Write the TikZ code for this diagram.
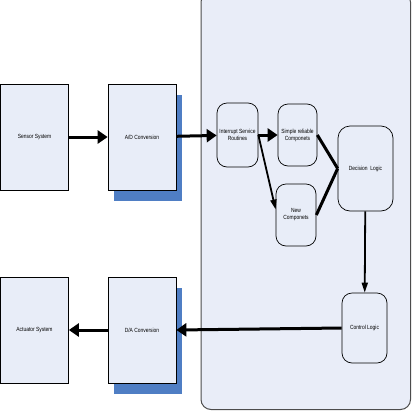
\documentclass[tikz,border=0pt]{standalone}
\usepackage{fontspec}
\newfontfamily\narrowsf{Liberation Sans}[FakeStretch=0.82]
\usetikzlibrary{arrows.meta,shadows}
\definecolor{boxfill}{RGB}{232,237,248}
\definecolor{panelfill}{RGB}{233,237,248}
\definecolor{shadowblue}{RGB}{79,126,196}
\tikzset{
  blockbox/.style={draw, fill=boxfill, line width=0.7pt, align=center,
    font=\narrowsf\fontsize{6}{7}\selectfont, inner sep=1pt,
    minimum width=68pt, minimum height=106pt},
  shadowbox/.style={blockbox, drop shadow={shadow xshift=5.5pt, shadow yshift=-11pt,
    fill=shadowblue, opacity=1}},
  roundbox/.style={draw, fill=boxfill, line width=0.7pt, rounded corners=10pt, align=center,
    font=\narrowsf\fontsize{6}{7}\selectfont, inner sep=1pt},
  thickarrow/.style={-{Triangle[length=10pt,width=13pt]}, line width=3pt},
  thinarrow/.style={-{Triangle[length=10pt,width=6pt]}, line width=1.8pt},
  thickline/.style={line width=3pt}
}
\begin{document}
\begin{tikzpicture}[x=1pt, y=-1pt]
  \useasboundingbox (0,0) rectangle (412,410);
  % processor panel
  \draw[fill=panelfill, draw=black!70, line width=1pt, rounded corners=10pt]
    (201,-8) rectangle (410.5,409.5);

  \node[blockbox] (sensor) at (34.5,137) {Sensor System};
  \node[shadowbox] (adconv) at (142,137) {A/D Conversion};
  \node[roundbox, minimum width=41pt, minimum height=64pt] (isr) at (237.5,135) {Interrupt Service\\Routines};
  \node[roundbox, minimum width=39pt, minimum height=62pt] (simple) at (297.5,135) {Simple reliable\\Componets};
  \node[roundbox, minimum width=40pt, minimum height=62pt] (newcomp) at (296,215) {New\\Componets};
  \node[roundbox, rounded corners=12pt, minimum width=55pt, minimum height=85pt] (decision) at (365.5,168.5) {Decision\ \ Logic};
  \node[roundbox, minimum width=45pt, minimum height=70pt] (control) at (364.5,328) {Control Logic};
  \node[shadowbox] (daconv) at (142,330) {D/A Conversion};
  \node[blockbox] (actuator) at (34.5,330) {Actuator System};

  \draw[thickarrow] (sensor) -- (adconv);
  \draw[thickarrow] (adconv) -- (isr);
  \draw[thickarrow] (isr) -- (simple);
  \draw[thinarrow] (isr.east) -- (newcomp.165);
  \draw[thickline] (simple.east) -- (decision.west);
  \draw[thickline] (newcomp.east) -- (decision.west);
  \draw[thinarrow] (decision) -- (control);
  \draw[thickarrow] (control.west) -- (daconv.east);
  \draw[thickarrow] (daconv) -- (actuator);
\end{tikzpicture}
\end{document}
